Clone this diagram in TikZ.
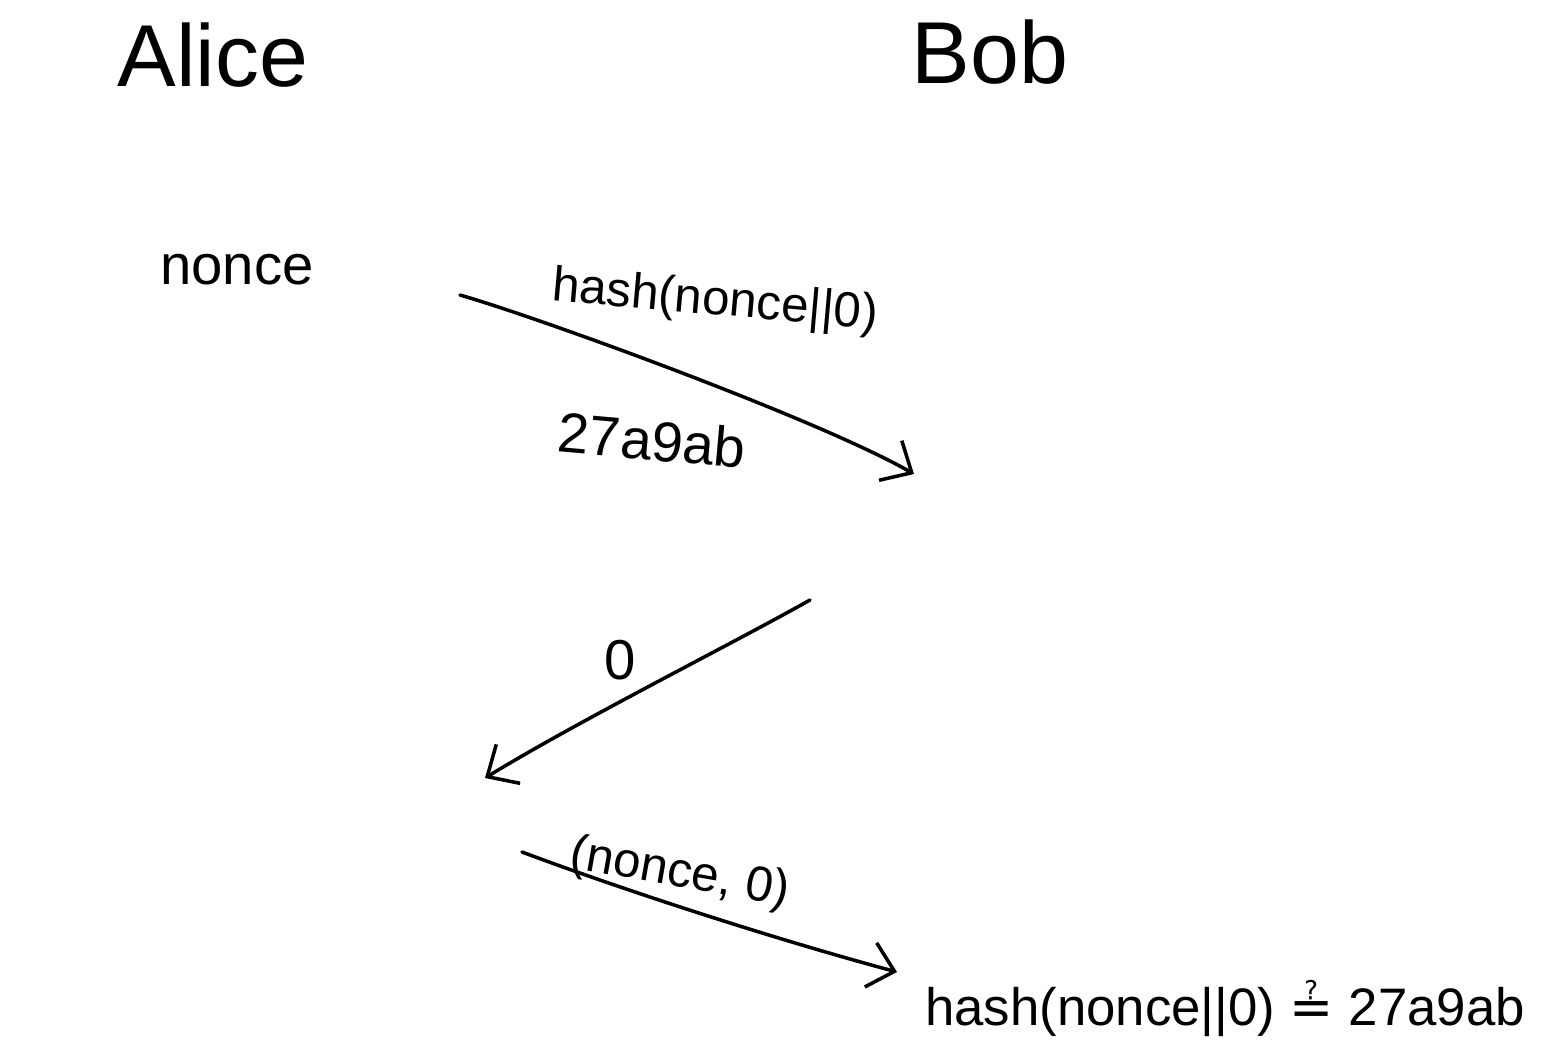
\documentclass[tikz,border=0pt]{standalone}
\usepackage{amsmath, amssymb}
\usepackage{fontspec}
\setmainfont{Liberation Sans}
\newfontfamily\symfont{DejaVu Sans}
\usepackage{tikz}
\usetikzlibrary{arrows.meta,positioning,calc}

\tikzset{
  party/.style={font=\fontsize{25}{30}\selectfont, inner sep=0pt},
  lbl/.style={font=\fontsize{16}{19}\selectfont, inner sep=0pt},
  smalllbl/.style={font=\fontsize{14}{17}\selectfont, inner sep=0pt},
  msg/.style={-{Straight Barb[length=7pt,width=13pt]}, line width=1pt, line cap=round}
}

\begin{document}
\begin{tikzpicture}[x=0.01cm, y=-0.01cm]
        \useasboundingbox (0,0) rectangle (1553,1059);

        % Parties
        \node[party] (alice) at (213,55) {Alice};
        \node[party] (bob) at (990,52) {Bob};
        \node[lbl] (nonce) at (237,270) {nonce};

        % Commitment
        \coordinate (c1s) at (460,295);
        \coordinate (c1e) at (914,474);
        \draw[msg] (c1s) .. controls (540,318) and (820,420) .. (c1e);
        \node[smalllbl, rotate=-5] (hashlbl) at (715,302) {hash(nonce||0)};
        \node[lbl, rotate=-5] (digest) at (652,440) {27a9ab};

        % Challenge
        \coordinate (c2s) at (810,600);
        \coordinate (c2e) at (485,778);
        \draw[msg] (c2s) .. controls (730,645) and (580,720) .. (c2e);
        \node[lbl] (zero) at (620,660) {0};

        % Opening
        \coordinate (c3s) at (522,852);
        \coordinate (c3e) at (897,972);
        \draw[msg] (c3s) .. controls (610,885) and (760,935) .. (c3e);
        \node[smalllbl, rotate=-10] (opening) at (680,874) {(nonce, 0)};

        % Check
        \node[smalllbl, font=\fontsize{15}{18}\selectfont] (check) at (1225,1008) {hash(nonce||0) {\symfont ≟} 27a9ab};
    \end{tikzpicture}
\end{document}
